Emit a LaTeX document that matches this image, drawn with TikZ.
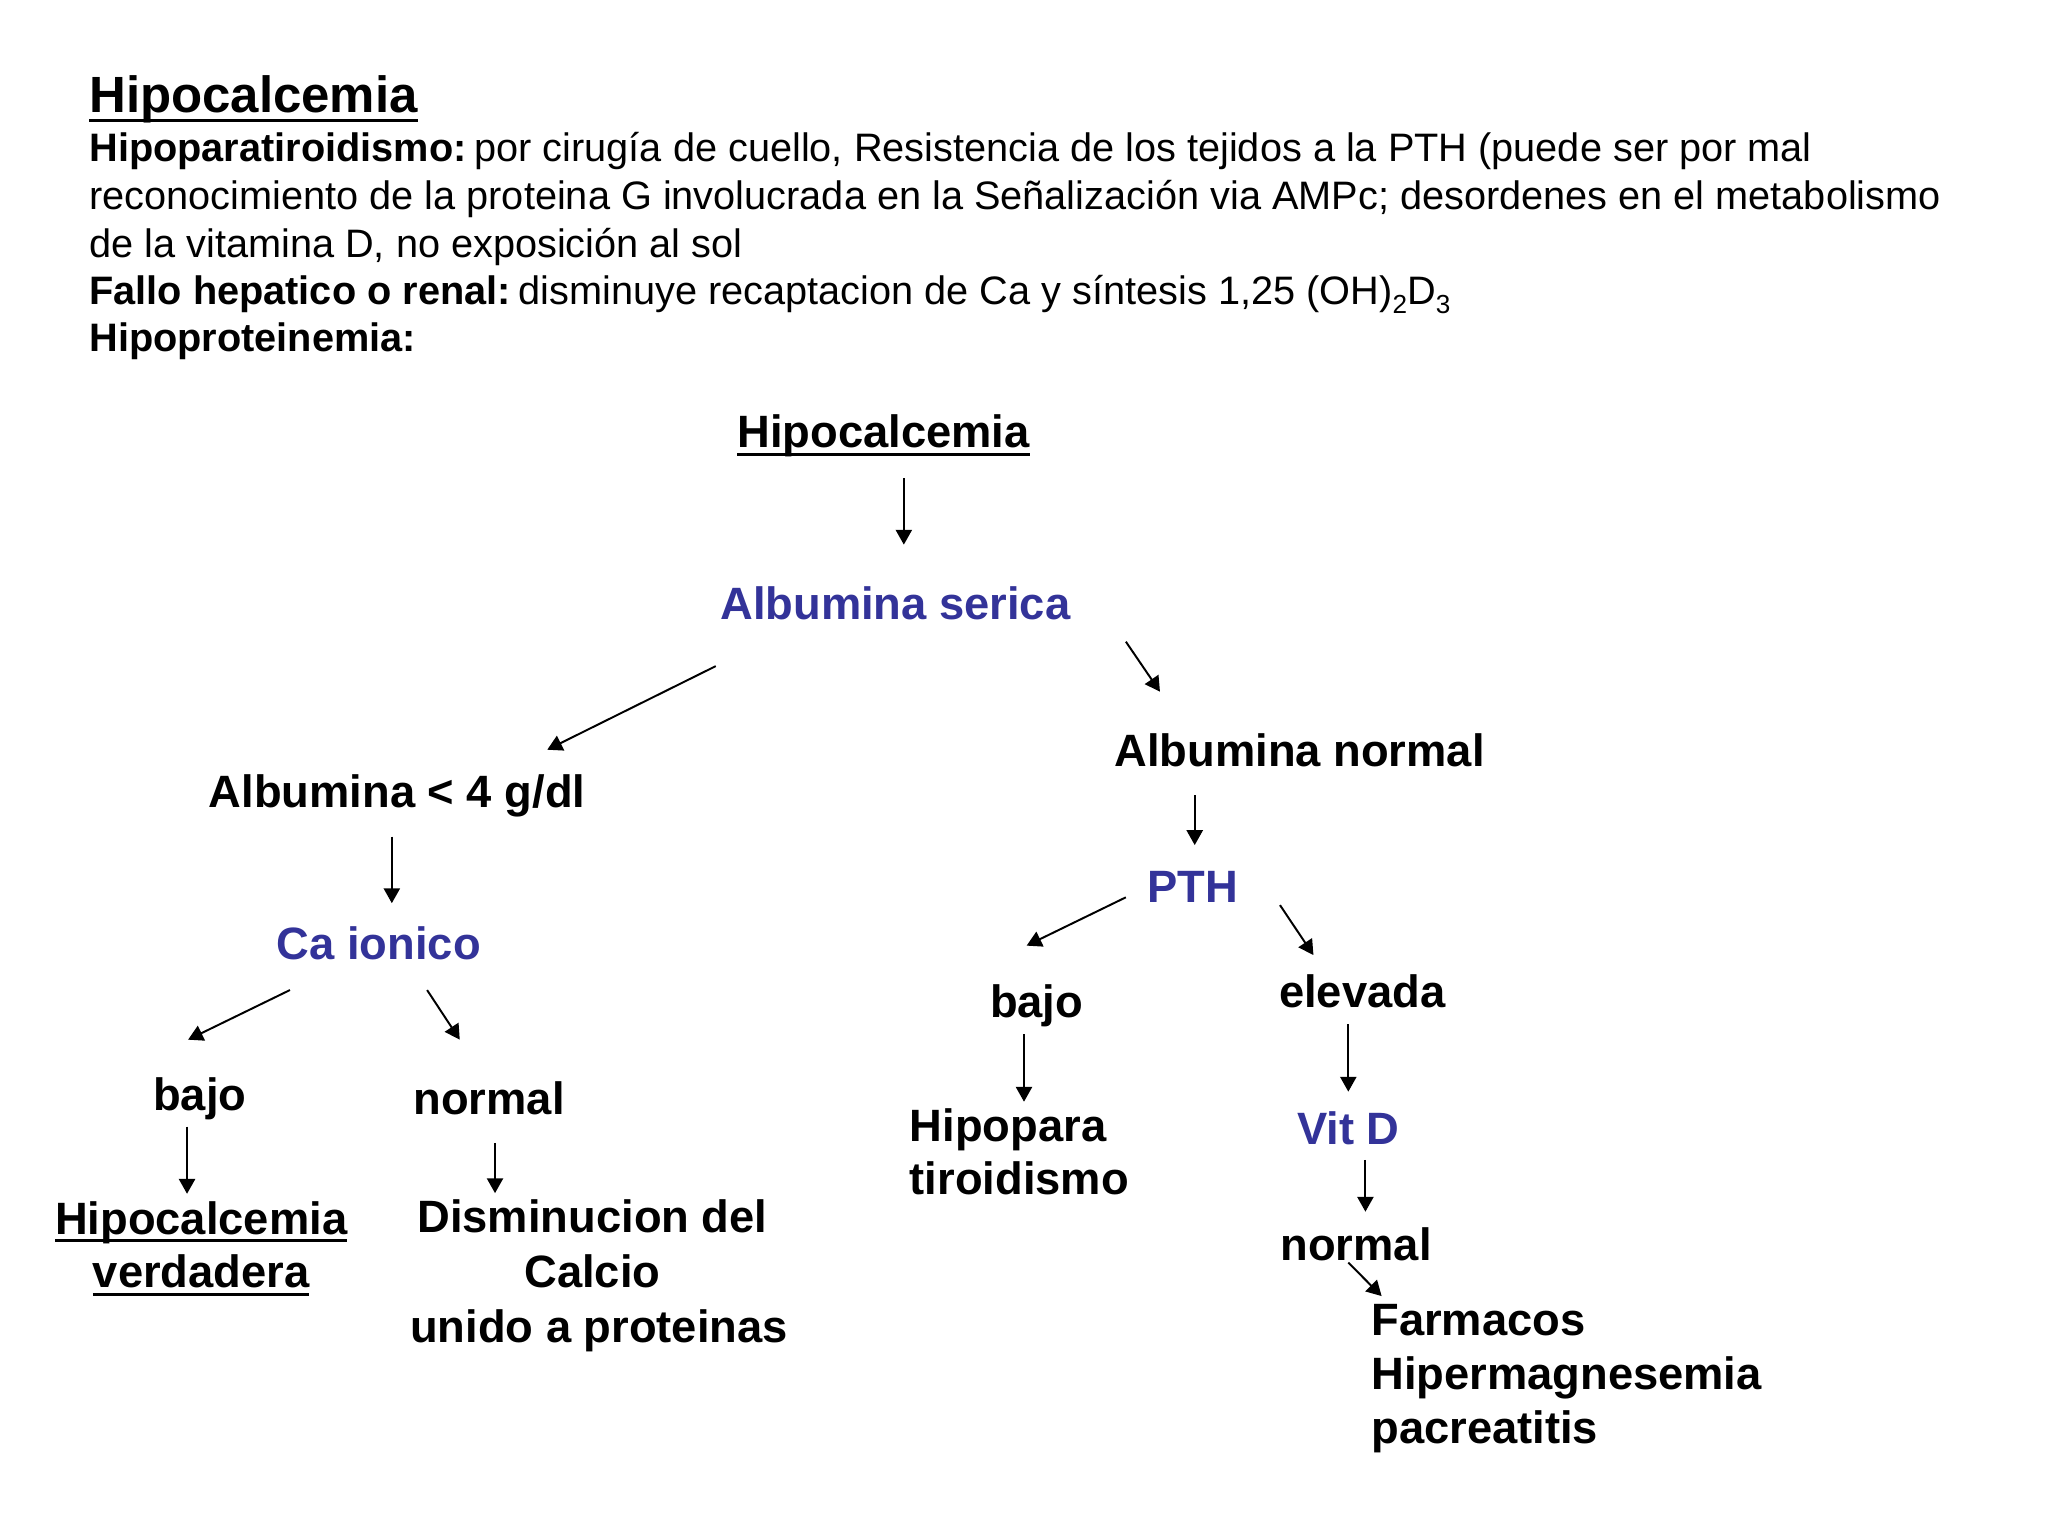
\documentclass[tikz,border=0pt]{standalone}
\usepackage{fontspec}
\setmainfont{Liberation Sans}
\usetikzlibrary{arrows.meta}
\definecolor{navy}{RGB}{51,51,153}
\newcommand\myul[1]{\setbox0\hbox{#1}\rlap{\rule[-0.185em]{\wd0}{0.07em}}\box0}
\newcommand\mysub[1]{\raisebox{-0.22em}{\fontsize{10}{12}\selectfont #1}}
\begin{document}
\begin{tikzpicture}[x=0.5pt,y=-0.5pt,
  hdr/.style={inner sep=0pt, anchor=base west, font=\fontsize{15.2}{18}\selectfont},
  lbl/.style={inner sep=0pt, anchor=base, font=\fontsize{17.35}{20.85}\selectfont\bfseries},
  lblw/.style={lbl, anchor=base west},
  key/.style={lbl, text=navy},
  arr/.style={line width=0.75pt, -{Triangle[length=5.7pt,width=6.2pt]}}]
\path[use as bounding box, fill=white] (0,0) rectangle (1568,1176);

% header
\node[hdr, font=\fontsize{19.5}{23}\selectfont\bfseries] (h0) at (68,86.5) {\myul{Hipocalcemia}};
\node[hdr] (h1) at (68,124) {\textbf{Hipoparatiroidismo:}\hspace{0.2em}por cirugía de cuello, Resistencia de los tejidos a la PTH (puede ser por mal};
\node[hdr] (h2) at (68,160.3) {reconocimiento de la proteina G involucrada en la Señalización via AMPc; desordenes en el metabolismo};
\node[hdr] (h3) at (68,196.8) {de la vitamina D, no exposición al sol};
\node[hdr] (h4) at (68,233.5) {\textbf{Fallo hepatico o renal:}\hspace{0.2em}disminuye recaptacion de Ca y síntesis 1,25 (OH)\mysub{2}D\mysub{3}};
\node[hdr] (h5) at (68,269.5) {\textbf{Hipoproteinemia:}};

% diagram nodes
\node[lbl] (title2) at (676.5,343) {\myul{Hipocalcemia}};
\node[key] (serica) at (685.5,474) {Albumina serica};
\node[lbl] (alb4) at (304,618) {Albumina < 4 g/dl};
\node[key] (caion) at (290,734.6) {Ca ionico};
\node[lbl] (bajoL) at (153,850) {bajo};
\node[lbl] (hipo1) at (154,944.8) {\myul{Hipocalcemia}};
\node[lbl] (hipo2) at (154,986) {\myul{verdadera}};
\node[lbl] (normL) at (374.5,853) {normal};
\node[lbl] (dism1) at (453.6,944) {Disminucion del};
\node[lbl] (dism2) at (453.6,986) {Calcio};
\node[lbl] (dism3) at (458.6,1027.5) {unido a proteinas};
\node[lbl] (albn) at (995,586.7) {Albumina normal};
\node[key] (pth) at (913,691) {PTH};
\node[lbl] (bajoR) at (793.7,779.4) {bajo};
\node[lblw] (hp1) at (696.2,873.8) {Hipopara};
\node[lblw] (hp2) at (696.2,914.7) {tiroidismo};
\node[lbl] (elev) at (1043,771.7) {elevada};
\node[key] (vitd) at (1032.3,876) {Vit D};
\node[lblw] (normR) at (980,965.2) {normal};
\node[lblw] (far1) at (1049.5,1022.4) {Farmacos};
\node[lblw] (far2) at (1049.5,1064) {Hipermagnesemia};
\node[lblw] (far3) at (1049.5,1105.5) {pacreatitis};

% arrow end points
\coordinate (a1s) at (692,366);      \coordinate (a1e) at (692,417);
\coordinate (a2s) at (548,510);      \coordinate (a2e) at (419,574);
\coordinate (a3s) at (862,491.3);    \coordinate (a3e) at (888.1,529.6);
\coordinate (a4s) at (300,640.5);    \coordinate (a4e) at (300,691.5);
\coordinate (a5s) at (222,758);      \coordinate (a5e) at (144,796);
\coordinate (a6s) at (327,758);      \coordinate (a6e) at (352,796);
\coordinate (a7s) at (143.2,862.6);  \coordinate (a7e) at (143.2,914);
\coordinate (a8s) at (379,875);      \coordinate (a8e) at (379,913.5);
\coordinate (a9s) at (914.7,608.7);  \coordinate (a9e) at (914.7,647);
\coordinate (a10s) at (862,687);     \coordinate (a10e) at (786,724);
\coordinate (a11s) at (980,693);     \coordinate (a11e) at (1005.6,731.2);
\coordinate (a12s) at (784,791.7);   \coordinate (a12e) at (784,843.5);
\coordinate (a13s) at (1032.3,784);  \coordinate (a13e) at (1032.3,835.8);
\coordinate (a14s) at (1045.4,888.1);\coordinate (a14e) at (1045.4,927.7);
\coordinate (a15s) at (1032.3,966.7);\coordinate (a15e) at (1057.8,992.3);

\foreach \i in {1,...,15} {\draw[arr] (a\i s) -- (a\i e);}
\end{tikzpicture}
\end{document}
